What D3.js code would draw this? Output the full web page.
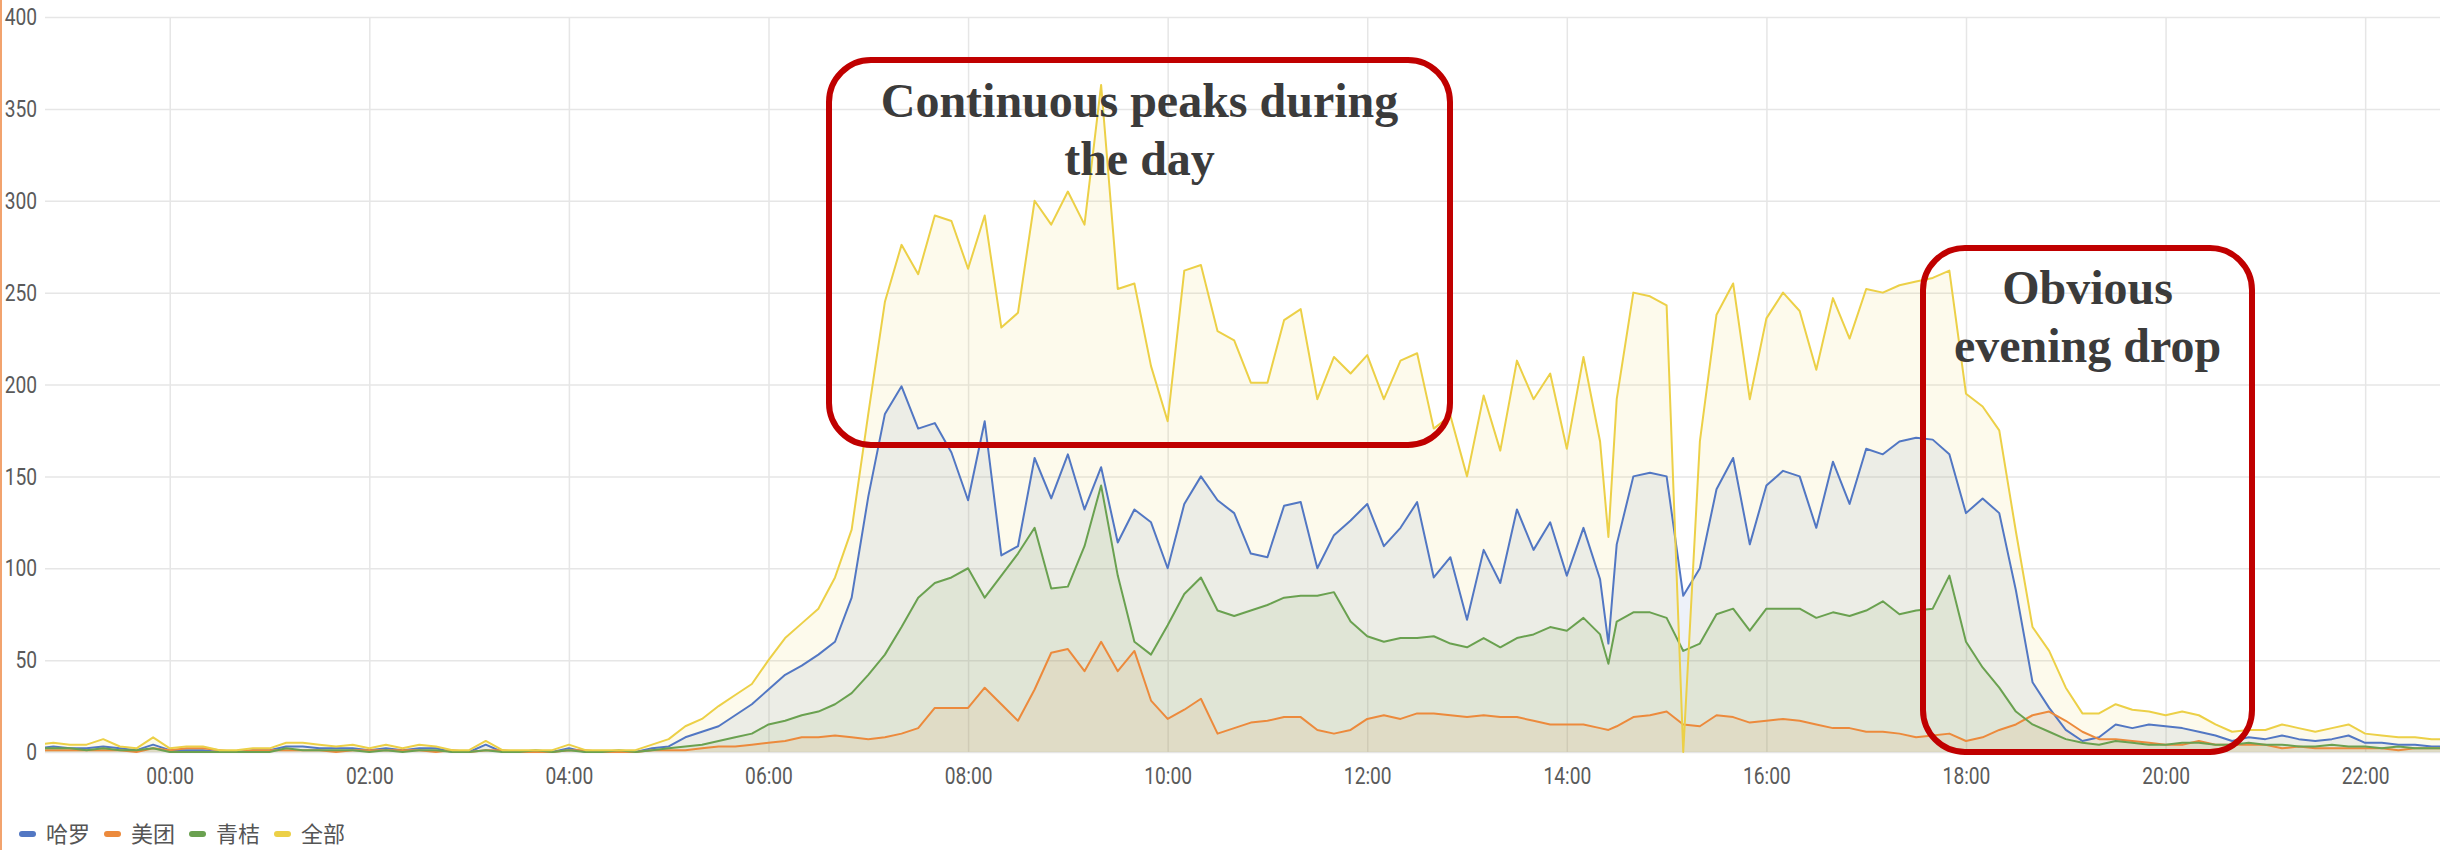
<!DOCTYPE html>
<html lang="zh">
<head>
<meta charset="utf-8">
<script src="https://d3js.org/d3.v7.min.js"></script>
<title>共享单车 24 小时订单量</title>
<style>
  body { margin: 0; background: #fff; }
  .axis text { font-family: "Roboto", sans-serif; font-size: 24px; fill: #5a5a5a; }
  .axis path { display: none; }
  .axis line { stroke: #e6e6e6; stroke-width: 1.5px; }
  .legend text { font-family: "Noto Sans CJK SC", sans-serif; font-size: 22px; fill: #555; }
  .note text { font-family: "Liberation Serif", "Times New Roman", serif; font-weight: bold; font-size: 48px; fill: #3b3b3b; }
</style>
</head>
<body>
<svg id="chart" width="2440" height="850"></svg>
<script>
// sample times in minutes from midnight: every 10 min from 22:40 the day before,
// plus one extra sample at 14:25 (short dip)
var times = d3.range(-80, 1390, 10);
times.splice(95, 0, 865);

var seriesNames = ["哈罗", "美团", "青桔", "全部"];
var seriesColors = ["#5277c3", "#ec8a3c", "#6aa150", "#ecd047"];

var hello = [
  2,3,2,2,3,2,1,4,1,1, 1,0,0,1,1,3,3,2,2,2, 1,2,1,2,2,0,0,4,0,0, 0,0,2,0,0,0,0,2,3,8, 11,14,20,26,
  34,42,47,53,60,84,139,184,199,176, 179,163,137,180,107,112,160,138,162,132, 155,114,132,125,100,
  135,150,137,130,108,106,134,136,100,118, 126,135,112,122,136,95,106,72,110,92, 132,110,125,96,
  122,94,59,113,150,152,150,85,100,143,160, 113,145,153,150,122,158,135,165,162,169, 171,170,162,130,
  138,130,88,38,24,12,6,8,15,13, 15,14,13,11,9,6,8,7,
  9,7,6,7,9,5,5,4,4,3,3
];
var meituan = [
  1,1,1,1,1,1,0,2,1,2, 2,1,0,1,1,1,1,1,0,1, 1,1,1,1,0,1,0,1,1,0, 0,0,1,1,0,0,0,1,1,1, 2,3,3,4,
  5,6,8,8,9,8,7,8,10,13, 24,24,24,35,26,17,34,54,56,44, 60,44,55,28,18,
  23,29,10,13,16,17,19,19,12,10, 12,18,20,18,21,21,20,19,20,19, 19,17,15,15,
  15,13,12,14,19,20,22,15,14,20,19, 16,17,18,17,15,13,13,11,11,10, 8,9,10,6,
  8,12,15,20,22,17,11,7,7,6, 5,4,4,6,4,4,4,4,
  2,3,2,2,2,2,2,1,2,2,2
];
var qingju = [
  2,2,2,1,2,1,1,2,0,0, 0,0,0,0,0,2,1,1,1,1, 0,1,0,1,1,0,0,1,0,0, 1,0,1,0,0,1,0,1,2,3, 4,6,8,10,
  15,17,20,22,26,32,42,53,68,84, 92,95,100,84,96,108,122,89,90,112, 145,96,60,53,69,
  86,95,77,74,77,80,84,85,85,87, 71,63,60,62,62,63,59,57,62,57, 62,64,68,66,
  73,64,48,71,76,76,73,55,59,75,78, 66,78,78,78,73,76,74,77,82,75, 77,78,96,60,
  46,35,22,15,11,7,5,4,6,5, 4,4,5,5,4,4,5,4,
  4,3,3,4,3,3,2,3,2,2,2
];
var total = [
  4,5,4,4,7,3,2,8,2,3, 3,1,1,2,2,5,5,4,3,4, 2,4,2,4,3,1,1,6,1,1, 1,1,4,1,1,1,1,4,7,14, 18,25,31,37,
  50,62,70,78,95,121,184,245,276,260, 292,289,263,292,231,239,300,287,305,287, 363,252,255,210,180,
  262,265,229,224,201,201,235,241,192,215, 206,216,192,213,217,176,183,150,194,164, 213,192,206,165,
  215,169,117,192,250,248,243,0,169,238,255, 192,236,250,240,208,247,225,252,250,254, 256,258,262,195,
  188,175,120,68,55,35,21,21,26,23, 22,20,22,20,15,11,12,12,
  15,13,11,13,15,10,9,8,8,7,7
];

var yTicks = [0, 50, 100, 150, 200, 250, 300, 350, 400];
var xTicks = [0, 120, 240, 360, 480, 600, 720, 840, 960, 1080, 1200, 1320];

var notes = [
  { lines: ["Continuous peaks during", "the day"], x0: 829, y0: 60, x1: 1450, y1: 445, base: 117 },
  { lines: ["Obvious", "evening drop"], x0: 1923, y0: 248, x1: 2252, y1: 752, base: 304 }
];

var svg = d3.select("#chart");
var plotL = 45, plotR = 2440, plotT = 17, plotB = 752;

var x = d3.scaleLinear().domain([-75, 1365]).range([plotL, plotR]);
var y = d3.scaleLinear().domain([0, 400]).range([plotB, plotT]);

// thin orange frame edge on the left
svg.append("line").attr("x1", 1).attr("x2", 1).attr("y1", 0).attr("y2", 850)
  .attr("stroke", "#f2a36e").attr("stroke-width", 2);

var yAxis = svg.append("g").attr("class", "axis")
  .attr("transform", "translate(" + plotL + ",0)")
  .call(d3.axisLeft(y).tickValues(yTicks).tickSize(-(plotR - plotL)).tickPadding(10));

var xAxis = svg.append("g").attr("class", "axis")
  .attr("transform", "translate(0," + plotB + ")")
  .call(d3.axisBottom(x).tickValues(xTicks).tickSize(-(plotB - plotT)).tickPadding(15)
    .tickFormat(function(d) { return d3.format("02")(d / 60) + ":00"; }));

// narrow digits like the original dashboard font
yAxis.selectAll("text").attr("transform", "scale(0.8,1)");
xAxis.selectAll("text").attr("transform", "scale(0.8,1)");

svg.append("clipPath").attr("id", "plot")
  .append("rect").attr("x", plotL).attr("y", 0).attr("width", plotR - plotL).attr("height", plotB + 2);

var series = [hello, meituan, qingju, total];
var pts = function(vals) {
  return vals.map(function(v, i) { return { t: times[i], v: v }; });
};

var area = d3.area().x(function(d) { return x(d.t); }).y0(y(0)).y1(function(d) { return y(d.v); });
var line = d3.line().x(function(d) { return x(d.t); }).y(function(d) { return y(d.v); });

var plot = svg.append("g").attr("clip-path", "url(#plot)");

plot.selectAll("path.fill").data(series).enter().append("path")
  .attr("class", "fill")
  .attr("d", function(d) { return area(pts(d)); })
  .attr("fill", function(d, i) { return seriesColors[i]; })
  .attr("fill-opacity", 0.1);

plot.selectAll("path.line").data(series).enter().append("path")
  .attr("class", "line")
  .attr("d", function(d) { return line(pts(d)); })
  .attr("fill", "none")
  .attr("stroke", function(d, i) { return seriesColors[i]; })
  .attr("stroke-width", 2)
  .attr("stroke-linejoin", "round");

// legend
var legend = svg.append("g").attr("class", "legend");
var item = legend.selectAll("g").data(seriesNames).enter().append("g")
  .attr("transform", function(d, i) { return "translate(" + (19 + i * 85) + ",834)"; });
item.append("rect").attr("x", 0).attr("y", -3).attr("width", 17).attr("height", 6).attr("rx", 3)
  .attr("fill", function(d, i) { return seriesColors[i]; });
item.append("text").attr("x", 27).attr("dy", "0.36em").text(function(d) { return d; });

// annotation boxes
var note = svg.selectAll("g.note").data(notes).enter().append("g").attr("class", "note");
note.append("rect")
  .attr("x", function(d) { return d.x0; }).attr("y", function(d) { return d.y0; })
  .attr("width", function(d) { return d.x1 - d.x0; }).attr("height", function(d) { return d.y1 - d.y0; })
  .attr("rx", 42).attr("ry", 42)
  .attr("fill", "none").attr("stroke", "#c00000").attr("stroke-width", 6);
note.each(function(d) {
  var g = d3.select(this);
  d.lines.forEach(function(s, k) {
    g.append("text").attr("x", (d.x0 + d.x1) / 2).attr("y", d.base + k * 58)
      .attr("text-anchor", "middle").text(s);
  });
});
</script>
</body>
</html>
